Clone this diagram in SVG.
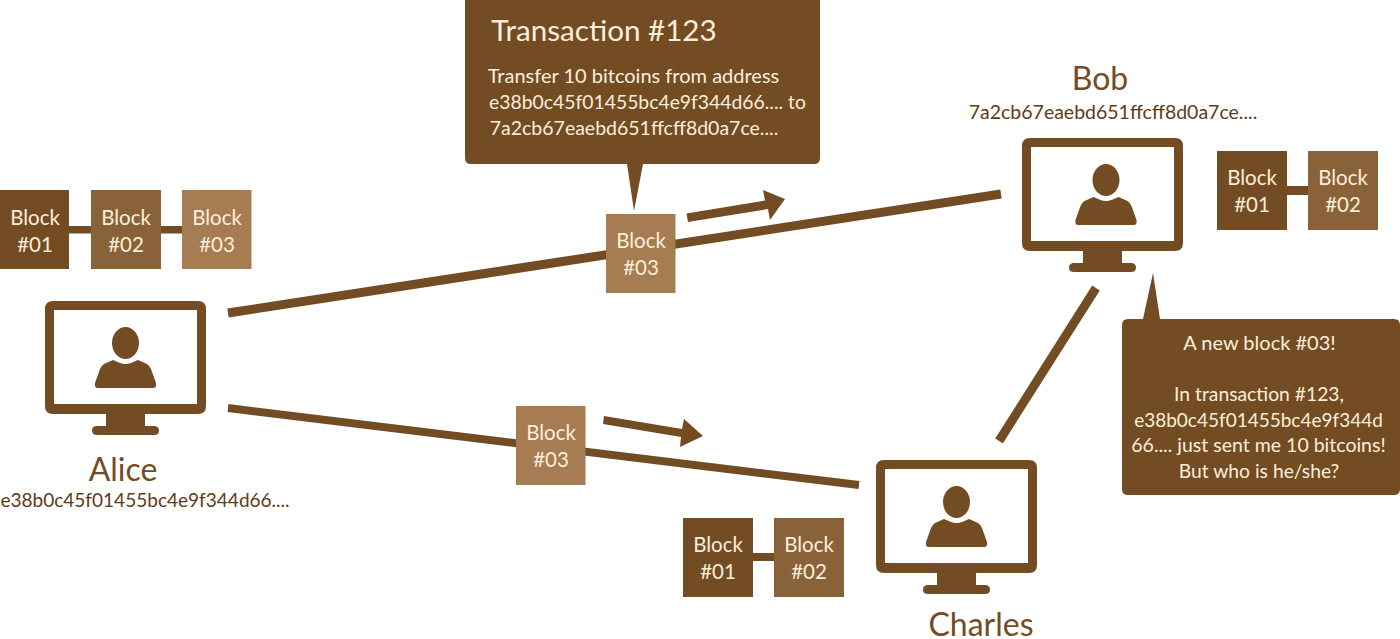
<svg xmlns="http://www.w3.org/2000/svg" width="1400" height="639" viewBox="0 0 1400 639">
<style>
text{font-family:"Lato","Open Sans","Liberation Sans",sans-serif;text-anchor:middle}
.d{fill:#734c24}.m{fill:#8a6239}.l{fill:#a67c52}
.bt{fill:#fdeedb;font-size:20.500px}
.name{fill:#734c24;font-size:32px}
.addr{fill:#5f3a16;font-size:19.500px}
.bub{fill:#fdeedb;font-size:19.300px}
.conn{stroke:#734c24;fill:none}
</style>
<defs>
<g id="screen">
<path class="d" fill-rule="evenodd" d="M53 301H198Q206 301 206 309V406Q206 414 198 414H145V426H154Q159 426 159 430.500Q159 435 154 435H97Q92 435 92 430.500Q92 426 97 426H106V414H53Q45 414 45 406V309Q45 301 53 301ZM54 310V404H197V310Z"/>
</g>
<g id="person">
<ellipse class="d" cx="125.500" cy="343" rx="13.500" ry="16"/>
<path class="d" d="M113 360L120 363Q125.500 365 131 363L138 360L147 364Q150 366 151 369L156 383Q157 388 153 388H98Q94 388 95 383L100 369Q101 366 104 364Z"/>
</g>
<g id="bk1"><rect class="d" width="70" height="79"/></g>
<g id="bk2"><rect class="m" width="70" height="79"/></g>
<g id="bk3"><rect class="l" width="69.500" height="79"/></g>
</defs>
<rect width="1400" height="639" fill="#fff"/>
<g id="connectors">
<path class="conn" stroke-width="9" d="M228 313L1001 194"/>
<path class="conn" stroke-width="8" d="M228 408L859 485"/>
<path class="conn" stroke-width="9" d="M1096 288L999 441"/>
<path class="d" d="M686.500 213.500L765 200.500L763 190L785 199L770 220L768 209L688 222Z"/>
<path class="d" d="M604 416L682 429L684 419L703 436L680 447L681 437L603 424Z"/>
<rect class="d" x="69" y="226" width="22" height="7.500"/>
<rect class="d" x="161" y="226" width="21" height="7.500"/>
<rect class="d" x="1287" y="186" width="21" height="9"/>
<rect class="d" x="752" y="553" width="22" height="8"/>
</g>
<g id="alice">
<use href="#screen"/><use href="#person"/>
<text class="name" x="123" y="481">Alice</text>
<text class="addr" x="145" y="507" style="font-size:19.050px">e38b0c45f01455bc4e9f344d66....</text>
</g>
<g id="bob">
<use href="#screen" x="977" y="-163"/><use href="#person" x="980.500" y="-163"/>
<text class="name" x="1100" y="90">Bob</text>
<text class="addr" x="1113" y="119">7a2cb67eaebd651ffcff8d0a7ce....</text>
</g>
<g id="charles">
<use href="#screen" x="831" y="159"/><use href="#person" x="831" y="159"/>
<text class="name" x="981" y="636">Charles</text>
</g>
<g id="alice-block-01"><use href="#bk1" x="-1" y="190"/><text class="bt" x="35" y="225">Block</text><text class="bt" x="35" y="252">#01</text></g>
<g id="alice-block-02"><use href="#bk2" x="91" y="190"/><text class="bt" x="126" y="225">Block</text><text class="bt" x="126" y="252">#02</text></g>
<g id="alice-block-03"><use href="#bk3" x="182" y="190"/><text class="bt" x="217" y="225">Block</text><text class="bt" x="217" y="252">#03</text></g>
<g id="bob-block-01"><use href="#bk1" x="1217" y="151"/><text class="bt" x="1252" y="185">Block</text><text class="bt" x="1252" y="212">#01</text></g>
<g id="bob-block-02"><use href="#bk2" x="1308" y="151"/><text class="bt" x="1343" y="185">Block</text><text class="bt" x="1343" y="212">#02</text></g>
<g id="charles-block-01"><use href="#bk1" x="683" y="518"/><text class="bt" x="718" y="552">Block</text><text class="bt" x="718" y="579">#01</text></g>
<g id="charles-block-02"><use href="#bk2" x="774" y="518"/><text class="bt" x="809" y="552">Block</text><text class="bt" x="809" y="579">#02</text></g>
<g id="moving-block-top"><use href="#bk3" x="606" y="214"/><text class="bt" x="641" y="248">Block</text><text class="bt" x="641" y="275">#03</text></g>
<g id="moving-block-bottom"><use href="#bk3" x="516" y="406"/><text class="bt" x="551" y="440">Block</text><text class="bt" x="551" y="467">#03</text></g>
<g id="transaction-callout">
<path class="d" d="M465 -5H820V158Q820 164 814 164H643L634 211L627 164H471Q465 164 465 158Z"/>
<text x="604" y="41" fill="#fdeedb" style="font-size:29.600px">Transaction #123</text>
<text class="bub" x="633.500" y="83" style="font-size:20px">Transfer 10 bitcoins from address</text>
<text class="bub" x="647.500" y="109" style="font-size:19.350px">e38b0c45f01455bc4e9f344d66.... to</text>
<text class="bub" x="634" y="135" style="font-size:19.500px">7a2cb67eaebd651ffcff8d0a7ce....</text>
</g>
<g id="bob-callout">
<path class="d" d="M1128 319H1143L1153 273L1160 319H1394Q1400 319 1400 325V489Q1400 495 1394 495H1128Q1122 495 1122 489V325Q1122 319 1128 319Z"/>
<text class="bub" x="1259.500" y="350" style="font-size:20px">A new block #03!</text>
<text class="bub" x="1259" y="401">In transaction #123,</text>
<text class="bub" x="1258.500" y="427" style="font-size:19px">e38b0c45f01455bc4e9f344d</text>
<text class="bub" x="1258.500" y="452" style="font-size:19.500px">66.... just sent me 10 bitcoins!</text>
<text class="bub" x="1259" y="478">But who is he/she?</text>
</g>
</svg>
